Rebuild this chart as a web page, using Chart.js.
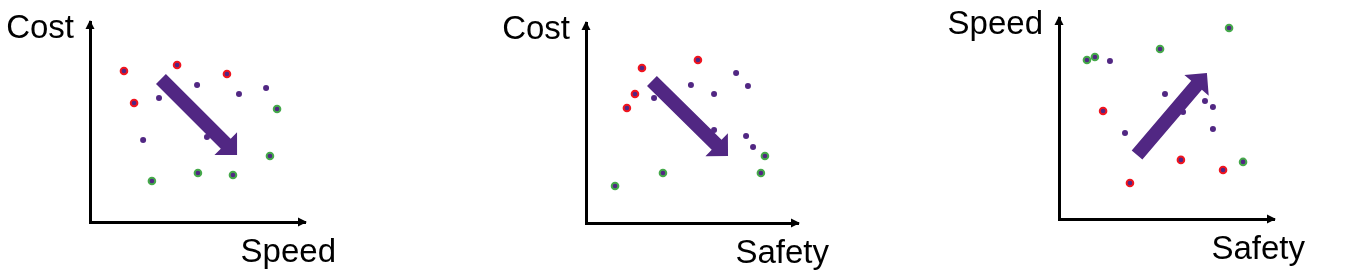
<!DOCTYPE html>
<html>
<head>
<meta charset="utf-8">
<script src="https://cdn.jsdelivr.net/npm/chart.js@4.4.1/dist/chart.umd.min.js"></script>
<style>
  body { margin: 0; background: #fff; }
  #wrap { position: relative; width: 1352px; height: 276px; overflow: hidden; }
  canvas { position: absolute; top: 0; }
</style>
</head>
<body>
<div id="wrap">
  <canvas id="c1" width="345" height="276" style="left:0px"></canvas>
  <canvas id="c2" width="350" height="276" style="left:490px"></canvas>
  <canvas id="c3" width="380" height="276" style="left:940px"></canvas>
</div>
<script>
// values on a 0-100 scale for each axis
const costSpeedRed = [[15.8, 75.5], [40.5, 78.5], [63.7, 74], [20.5, 59.5]];
const costSpeedPurple = [[49.8, 68.5], [32.1, 62], [69.3, 64], [81.9, 67], [24.7, 41], [54.4, 42.5]];
const costSpeedGreen = [[87, 56.5], [83.7, 33], [28.8, 20.5], [50.2, 24.5], [66.5, 23.5]];
const costSpeedTrend = [[33, 71.5], [68.4, 33.5]];

const costSafetyRed = [[26.4, 77.5], [23.1, 64.5], [19.3, 57.5], [52.8, 81.5]];
const costSafetyPurple = [[32.1, 62.5], [49.5, 69], [60.4, 64.5], [70.8, 75], [76.4, 68.5], [60.4, 46.5], [75.5, 43.5], [78.8, 38]];
const costSafetyGreen = [[84.4, 33.5], [82.5, 25], [36.3, 25], [13.7, 18.5]];
const costSafetyTrend = [[31.1, 71], [67, 33.5]];

const speedSafetyRed = [[20.5, 53.7], [56.7, 29.4], [76.3, 24.4], [33, 17.9]];
const speedSafetyPurple = [[23.7, 78.6], [49.3, 62.2], [67.9, 58.7], [71.6, 55.7], [57.7, 53.2], [71.6, 44.8], [30.7, 42.8]];
const speedSafetyGreen = [[13, 79.1], [16.7, 80.6], [47, 84.6], [79.1, 95], [85.6, 28.4]];
const speedSafetyTrend = [[36.3, 31.8], [68.8, 72.6]];

const PURPLE = '#512783';
const RED = '#f0141e';
const GREEN = '#45a94a';

const toPts = arr => arr.map(p => ({ x: p[0], y: p[1] }));

// axis arrowheads, axis words and the big trend arrow
const decor = {
  id: 'decor',
  afterDatasetsDraw(chart, args, opts) {
    const { ctx, chartArea: a, scales } = chart;
    const t = opts.trend;
    const x0 = scales.x.getPixelForValue(t[0][0]), y0 = scales.y.getPixelForValue(t[0][1]);
    const x1 = scales.x.getPixelForValue(t[1][0]), y1 = scales.y.getPixelForValue(t[1][1]);
    const dx = x1 - x0, dy = y1 - y0, len = Math.hypot(dx, dy);
    const ux = dx / len, uy = dy / len, nx = -uy, ny = ux;
    const shaft = 14, headW = 32, headL = 16;
    const bx = x1 - ux * headL, by = y1 - uy * headL;
    ctx.save();
    ctx.fillStyle = PURPLE;
    ctx.beginPath();
    ctx.moveTo(x0 + nx * shaft / 2, y0 + ny * shaft / 2);
    ctx.lineTo(bx + nx * shaft / 2, by + ny * shaft / 2);
    ctx.lineTo(bx + nx * headW / 2, by + ny * headW / 2);
    ctx.lineTo(x1, y1);
    ctx.lineTo(bx - nx * headW / 2, by - ny * headW / 2);
    ctx.lineTo(bx - nx * shaft / 2, by - ny * shaft / 2);
    ctx.lineTo(x0 - nx * shaft / 2, y0 - ny * shaft / 2);
    ctx.closePath();
    ctx.fill();

    // arrowheads on axes
    ctx.fillStyle = '#000';
    ctx.beginPath();
    ctx.moveTo(a.left, a.top - 2);
    ctx.lineTo(a.left - 4.5, a.top + 7);
    ctx.lineTo(a.left + 4.5, a.top + 7);
    ctx.closePath();
    ctx.fill();
    ctx.beginPath();
    ctx.moveTo(a.right + 2, a.bottom);
    ctx.lineTo(a.right - 7, a.bottom - 4.5);
    ctx.lineTo(a.right - 7, a.bottom + 4.5);
    ctx.closePath();
    ctx.fill();

    ctx.font = '33px "Liberation Sans", Arial, sans-serif';
    ctx.textAlign = 'right';
    ctx.textBaseline = 'alphabetic';
    ctx.fillText(opts.yText, a.left - 16, a.top + 16);
    ctx.fillText(opts.xText, a.right + 31, a.bottom + 40);
    ctx.restore();
  }
};

function makeChart(id, red, purple, green, trend, xText, yText, pad) {
  const ringed = (data, color) => ({
    data: toPts(data),
    pointRadius: 3.3,
    pointBorderWidth: 2,
    pointBackgroundColor: PURPLE,
    pointBorderColor: color,
    showLine: false
  });
  new Chart(document.getElementById(id), {
    type: 'scatter',
    data: {
      datasets: [
        ringed(red, RED),
        { data: toPts(purple), pointRadius: 3, pointBorderWidth: 0, pointBackgroundColor: PURPLE, showLine: false },
        ringed(green, GREEN)
      ]
    },
    options: {
      responsive: false,
      animation: false,
      devicePixelRatio: 1,
      layout: { padding: pad },
      plugins: {
        legend: { display: false },
        tooltip: { enabled: false },
        decor: { trend, xText, yText }
      },
      scales: {
        x: {
          type: 'linear', min: 0, max: 100,
          grid: { display: false },
          ticks: { display: false },
          border: { display: true, color: '#000', width: 3 },
          afterFit: s => { s.height = 0; }
        },
        y: {
          type: 'linear', min: 0, max: 100,
          grid: { display: false },
          ticks: { display: false },
          border: { display: true, color: '#000', width: 3 },
          afterFit: s => { s.width = 0; }
        }
      }
    },
    plugins: [decor]
  });
}

makeChart('c1', costSpeedRed, costSpeedPurple, costSpeedGreen, costSpeedTrend, 'Speed', 'Cost',
  { left: 90, right: 40, top: 22, bottom: 54 });
makeChart('c2', costSafetyRed, costSafetyPurple, costSafetyGreen, costSafetyTrend, 'Safety', 'Cost',
  { left: 96, right: 42, top: 23, bottom: 53 });
makeChart('c3', speedSafetyRed, speedSafetyPurple, speedSafetyGreen, speedSafetyTrend, 'Safety', 'Speed',
  { left: 119, right: 46, top: 18, bottom: 57 });
</script>
</body>
</html>
